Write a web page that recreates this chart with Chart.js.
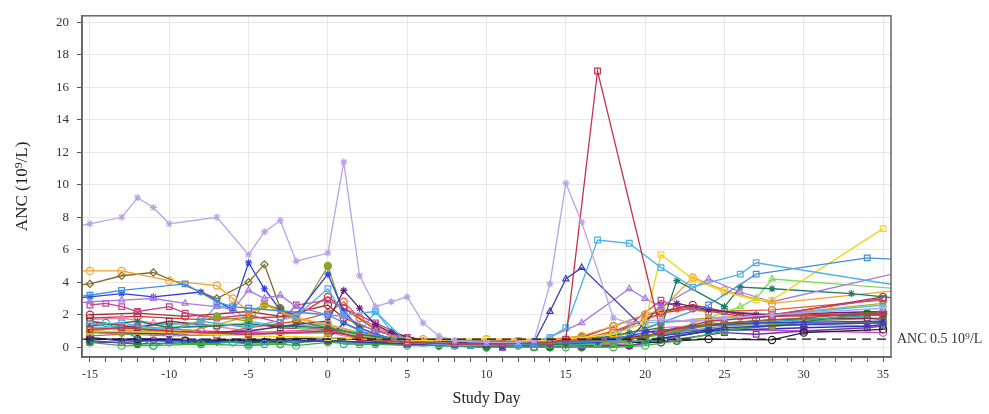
<!DOCTYPE html>
<html><head><meta charset="utf-8">
<script src="https://cdn.jsdelivr.net/npm/chart.js@4"></script>
<style>html,body{margin:0;padding:0;background:#fff;}</style>
</head><body>
<canvas id="c" width="989" height="414"></canvas>
<script>
// ---- Data: [study day, ANC (10^9/L)] per subject ----
const s01 = [[-16,7.4],[-15,7.6],[-13,8.0],[-12,9.2],[-11,8.6],[-10,7.6],[-7,8.0],[-5,5.7],[-4,7.1],[-3,7.8],[-2,5.3],[0,5.8],[1,11.4],[2,4.4],[3,2.5],[4,2.8],[5,3.1],[6,1.5],[7,0.7],[8,0.4],[10,0.3],[12,0.3],[13,0.4],[14,3.9],[15,10.1],[16,7.7],[18,1.8],[19,1.5],[21,1.7],[23,1.6],[25,1.8],[28,2.0],[35,2.4]];
const s02 = [[-15,1.1],[-13,1.2],[-10,1.0],[-5,0.8],[0,1.0],[2,0.6],[5,0.3],[8,0.2],[11,0.2],[14,0.3],[15,0.5],[17,17.0],[21,0.9],[24,1.6],[28,1.9],[35,2.0]];
const s03 = [[-15,1.4],[-13,1.5],[-10,1.0],[-8,1.6],[-5,1.2],[-2,1.9],[0,3.6],[1,2.0],[3,2.2],[5,0.3],[8,0.1],[12,0.2],[14,0.6],[15,1.2],[17,6.6],[19,6.4],[21,4.9],[23,3.7],[26,4.5],[27,5.2],[36,3.8]];
const s04 = [[-16,3.1],[-15,3.2],[-13,3.5],[-9,3.9],[-7,2.8],[-6,2.5],[-5,2.4],[0,2.0],[2,1.0],[5,0.3],[9,0.1],[13,0.2],[18,0.4],[21,1.5],[24,2.6],[27,4.5],[34,5.5],[36,5.4]];
const s05 = [[-15,1.0],[-10,0.9],[-5,0.7],[0,0.6],[5,0.4],[10,0.5],[14,0.4],[18,0.8],[20,1.5],[21,5.7],[23,4.2],[25,3.4],[27,2.9],[28,2.9],[35,7.3]];
const s06 = [[-15,0.5],[-10,0.4],[-5,0.5],[0,0.4],[5,0.2],[10,0.1],[13,0.3],[14,2.2],[15,4.2],[16,4.9],[20,1.1],[21,0.7],[25,1.2],[30,1.4],[35,1.5]];
const s07 = [[-16,2.7],[-15,2.8],[-13,2.9],[-11,3.0],[-9,2.7],[-7,2.5],[-6,2.3],[-5,3.5],[-4,3.0],[-3,3.2],[-2,2.5],[0,2.0],[1,1.9],[3,1.0],[5,0.5],[7,0.3],[10,0.1],[13,0.2],[16,1.5],[19,3.6],[20,3.0],[21,2.5],[24,4.2],[26,3.4],[28,2.8],[36,4.6]];
const s08 = [[-15,1.3],[-12,1.6],[-10,1.2],[-5,1.4],[0,1.2],[2,0.8],[5,0.4],[8,0.2],[12,0.1],[15,0.2],[19,0.9],[21,1.2],[22,4.1],[25,2.5],[26,3.7],[28,3.6],[33,3.3],[36,3.0]];
const s09 = [[-16,4.7],[-15,4.7],[-13,4.7],[-10,4.1],[-7,3.8],[-6,3.0],[-5,2.2],[-4,2.6],[-2,1.8],[0,1.4],[2,0.9],[4,0.5],[6,0.5],[10,0.5],[14,0.5],[16,0.7],[18,1.3],[20,2.0],[21,2.3],[23,4.3],[25,3.5],[28,2.7],[36,3.5]];
const s10 = [[-16,3.8],[-15,3.9],[-13,4.4],[-11,4.6],[-7,3.0],[-5,4.0],[-4,5.1],[-3,2.4],[-2,1.6],[0,1.2],[2,0.5],[5,0.3],[10,0.2],[15,0.3],[20,0.6],[21,1.0],[25,1.5],[30,1.8],[35,2.2]];
const s11 = [[-16,3.0],[-15,3.1],[-13,3.3],[-11,3.1],[-8,3.4],[-6,2.3],[-5,5.2],[-4,3.6],[-3,2.3],[-2,2.0],[0,4.5],[1,2.2],[2,1.2],[3,0.8],[5,0.3],[8,0.1],[11,0.1],[14,0.2],[17,0.3],[20,0.9],[23,1.3],[27,1.5],[35,1.6]];
const s12 = [[-15,1.0],[-10,0.8],[-5,1.0],[-2,1.4],[0,1.6],[1,3.5],[2,2.4],[3,1.4],[4,0.9],[6,0.4],[10,0.2],[14,0.2],[19,0.5],[21,2.6],[22,2.7],[24,2.3],[27,2.0],[35,2.2]];
const s13 = [[-15,0.9],[-13,0.9],[-10,1.1],[-7,1.9],[-5,1.6],[-4,2.6],[-3,2.4],[-2,1.7],[0,5.0],[1,2.0],[2,1.2],[4,0.5],[7,0.3],[10,0.2],[14,0.2],[18,0.3],[21,0.8],[24,1.5],[28,1.3],[35,1.6]];
const s14 = [[-15,2.6],[-14,2.7],[-13,2.5],[-12,2.2],[-10,2.5],[-9,2.1],[-7,1.8],[-5,2.0],[-3,1.5],[-2,2.6],[0,2.9],[1,2.4],[3,1.5],[5,0.6],[7,0.3],[10,0.3],[13,0.3],[18,0.6],[21,2.9],[22,2.5],[25,2.2],[28,2.0],[35,3.0]];
const s15 = [[-15,2.0],[-12,2.1],[-9,1.9],[-5,2.2],[-3,1.9],[0,2.6],[1,1.8],[3,1.0],[5,0.5],[8,0.3],[12,0.3],[16,0.6],[18,1.3],[20,2.0],[21,2.2],[23,2.6],[27,1.8],[35,3.1]];
const s16 = [[-15,0.3],[-13,0.1],[-11,0.1],[-8,0.2],[-5,0.1],[-3,0.2],[-2,0.1],[0,0.3],[2,0.2],[5,0.2],[10,0.0],[13,0.0],[15,0.0],[18,0.0],[20,0.1],[22,0.4],[25,1.0],[28,1.4],[35,1.5]];
const s17 = [[-15,1.4],[-14,1.5],[-11,0.1],[-10,0.3],[-8,0.2],[-6,0.3],[-5,0.2],[-4,0.2],[-3,0.2],[-2,0.4],[0,0.5],[1,0.2],[3,0.2],[5,0.1],[8,0.1],[12,0.1],[16,0.2],[20,0.4],[23,1.2],[25,1.4],[35,2.0]];
const s18 = [[-15,1.1],[-10,1.2],[-5,1.5],[0,1.0],[3,0.6],[6,0.2],[10,0.1],[14,0.1],[17,0.2],[19,0.3],[21,0.8],[24,1.8],[26,2.5],[27,3.0],[28,4.2],[36,3.6]];
const s19 = [[-15,0.5],[-12,0.5],[-9,0.4],[-5,0.4],[-3,0.5],[0,0.6],[3,0.4],[7,0.3],[10,0.3],[14,0.3],[18,0.3],[21,0.3],[22,0.4],[24,0.5],[28,0.45],[30,0.9],[35,1.1]];
const s20 = [[-15,0.7],[-11,0.9],[-7,0.8],[-5,1.2],[-2,1.6],[0,2.1],[1,2.8],[2,1.8],[4,0.8],[7,0.3],[10,0.2],[14,0.3],[16,0.5],[18,1.0],[20,1.7],[22,2.4],[24,2.2],[28,2.3],[35,2.9]];
const s21 = [[-15,0.3],[-13,0.3],[-11,0.4],[-9,0.4],[-7,0.4],[-5,0.5],[-3,0.4],[0,0.4],[2,0.3],[5,0.2],[8,0.1],[9,0.1],[11,0.0],[13,0.0],[16,0.1],[19,0.1],[22,0.5],[25,0.9],[27,0.8],[30,1.0],[34,1.2],[35,1.3]];
const s22 = [[-15,0.6],[-13,0.4],[-12,0.5],[-10,0.5],[-7,0.3],[-5,0.3],[-4,0.4],[-2,0.3],[0,0.5],[1,1.5],[3,0.6],[8,0.1],[11,0.0],[15,0.1],[20,0.4],[24,1.0],[30,1.2],[34,1.3],[35,1.4]];
const s23 = [[-15,1.6],[-12,1.2],[-10,1.6],[-7,1.3],[-5,1.5],[-3,1.2],[0,1.1],[2,0.6],[5,0.3],[10,0.2],[15,0.3],[20,0.7],[22,1.0],[24,1.4],[28,1.7],[34,1.8],[35,1.7]];
const s24 = [[-15,1.2],[-10,1.4],[-8,1.5],[-7,2.6],[-6,2.4],[-5,1.6],[-3,1.3],[0,1.4],[2,0.9],[3,2.2],[4,1.0],[5,0.2],[7,0.1],[10,0.1],[16,0.3],[20,1.5],[25,1.7],[35,2.6]];
const s25 = [[-15,1.2],[-12,1.0],[-9,0.9],[-5,1.9],[-4,2.7],[-2,1.8],[0,1.3],[2,0.8],[5,0.4],[8,0.3],[12,0.4],[15,0.4],[18,0.6],[21,1.5],[24,1.8],[28,2.0],[35,2.7]];
const s26 = [[-15,0.4],[-12,0.2],[-8,0.3],[-5,0.3],[-2,0.3],[0,0.4],[3,0.3],[7,0.1],[10,0.0],[14,0.0],[16,0.0],[19,0.1],[21,0.5],[24,1.0],[28,1.3],[34,2.1],[35,2.1]];
const s27 = [[-15,0.9],[-10,0.7],[-5,0.8],[0,0.9],[4,0.5],[8,0.4],[12,0.4],[16,0.5],[21,0.8],[25,1.3],[30,1.6],[35,1.8]];
const s28 = [[-15,1.7],[-13,1.8],[-11,1.5],[-8,1.4],[-5,1.0],[-3,0.9],[0,0.9],[2,0.5],[5,0.3],[10,0.2],[15,0.3],[19,0.5],[21,1.2],[26,1.5],[30,1.4],[35,1.3]];
const s29 = [[-15,1.8],[-12,1.9],[-8,1.7],[-5,1.8],[-2,1.9],[0,3.1],[1,2.4],[3,1.1],[5,0.4],[8,0.2],[12,0.2],[15,0.2],[18,0.9],[21,2.1],[23,2.4],[26,1.9],[35,2.1]];
const s30 = [[-15,1.0],[-12,1.3],[-8,1.0],[-5,0.9],[0,1.1],[3,0.5],[6,0.3],[10,0.1],[14,0.1],[19,0.2],[21,1.0],[25,1.1],[30,1.0],[35,0.9]];

const ancThreshold = 0.5;
const thresholdLabel = 'ANC 0.5 10\u2079/L';
const xTickLabels = [-15,-10,-5,0,5,10,15,20,25,30,35];
const yTickLabels = [0,2,4,6,8,10,12,14,16,18,20];

// ---- Styles ----
const allSeries = [s01,s02,s03,s04,s05,s06,s07,s08,s09,s10,s11,s12,s13,s14,s15,s16,s17,s18,s19,s20,s21,s22,s23,s24,s25,s26,s27,s28,s29,s30];
const seriesColors = ['#b7a3ea','#c8304a','#4fb0ea','#3f8fdc','#f2d31b','#3c3cb0','#a77ae0','#1f7a62','#f0a22a','#7d6a2e','#2f3fe0','#5e2480','#8ba52a','#c2468a','#a33434','#3cb043','#2fa3a3','#7ddc5a','#222222','#e0632e','#7434a6','#1f32c8','#873042','#3fc6e2','#c7a524','#1e8232','#8c8c8c','#ee82b4','#e03131','#d045c8'];
const seriesMarkers = ['star','rect','rect','rect','rect','triangle','triangle','star','circle','rectRot','star','star','circle','rect','circle','circle','circle','triangle','circle','circle','rect','star','rect','triangle','rect','circle','cross','triangle','circle','circle'];
const seriesFilled = [false,false,false,false,false,false,false,true,false,false,true,true,true,false,false,false,false,false,false,false,false,true,false,false,true,true,false,false,false,false];

const datasets = allSeries.map((s,i)=>({
  data: s.map(([x,y])=>({x,y})),
  showLine: true,
  borderColor: seriesColors[i],
  backgroundColor: seriesColors[i],
  pointBorderColor: seriesColors[i],
  pointBackgroundColor: seriesFilled[i] ? seriesColors[i] : 'rgba(255,255,255,0)',
  pointStyle: seriesMarkers[i],
  pointRadius: seriesMarkers[i]==='rect' ? 4 : 3.6,
  pointBorderWidth: 1.2,
  borderWidth: 1.3,
  tension: 0
}));

const framePlugin = {
  id: 'frameAndRef',
  afterDatasetsDraw(chart){
    const {ctx, chartArea:{left,right,top,bottom}, scales:{y}} = chart;
    const yy = y.getPixelForValue(ancThreshold);
    ctx.save();
    ctx.strokeStyle = '#111'; ctx.lineWidth = 1.3; ctx.setLineDash([9,6]);
    ctx.beginPath(); ctx.moveTo(left, yy); ctx.lineTo(right, yy); ctx.stroke();
    ctx.setLineDash([]);
    ctx.fillStyle = '#333'; ctx.font = '14px "Liberation Serif", serif';
    ctx.textBaseline = 'middle'; ctx.textAlign = 'left';
    ctx.fillText(thresholdLabel, right + 6, yy);
    ctx.strokeStyle = '#666'; ctx.lineWidth = 1.5;
    ctx.strokeRect(left, top, right-left, bottom-top);
    ctx.restore();
  }
};

const serif = '"Liberation Serif", "Times New Roman", serif';
new Chart(document.getElementById('c'), {
  type: 'scatter',
  data: { datasets },
  options: {
    responsive: false,
    animation: false,
    devicePixelRatio: 1,
    layout: { padding: { left: 4, right: 98, top: 7, bottom: 0 } },
    plugins: { legend: { display: false }, tooltip: { enabled: false } },
    scales: {
      x: {
        type: 'linear', min: -15.5, max: 35.5,
        afterBuildTicks: (sc) => {
          const t = [];
          for (let v = xTickLabels[0]; v <= xTickLabels[xTickLabels.length-1]; v++) t.push({value: v});
          sc.ticks = t;
        },
        afterFit: (sc) => { sc.height = 57; },
        ticks: {
          autoSkip: false, maxRotation: 0, padding: 6, color: '#333',
          font: { family: serif, size: 12 },
          callback: (v) => xTickLabels.includes(v) ? String(v) : ''
        },
        grid: {
          color: (c) => (c.tick && xTickLabels.includes(c.tick.value)) ? '#e8e8e8' : 'rgba(0,0,0,0)',
          tickColor: '#555', tickLength: 5, lineWidth: 1
        },
        border: { display: true, color: '#555', width: 1.5 },
        title: { display: true, text: 'Study Day', color: '#222', font: { family: serif, size: 16 }, padding: { top: 0, bottom: 6 } }
      },
      y: {
        type: 'linear', min: -0.6, max: 20.4,
        afterBuildTicks: (sc) => { sc.ticks = yTickLabels.map(v => ({value: v})); },
        afterFit: (sc) => { sc.width = 78; },
        ticks: { padding: 8, color: '#333', font: { family: serif, size: 13 }, callback: (v) => String(v) },
        grid: { color: '#e8e8e8', tickColor: '#555', tickLength: 5, lineWidth: 1 },
        border: { display: true, color: '#555', width: 1.5 },
        title: { display: true, text: 'ANC (10\u2079/L)', color: '#222', font: { family: serif, size: 17 }, padding: { top: 8, bottom: 0 } }
      }
    }
  },
  plugins: [framePlugin]
});
</script>
</body></html>
